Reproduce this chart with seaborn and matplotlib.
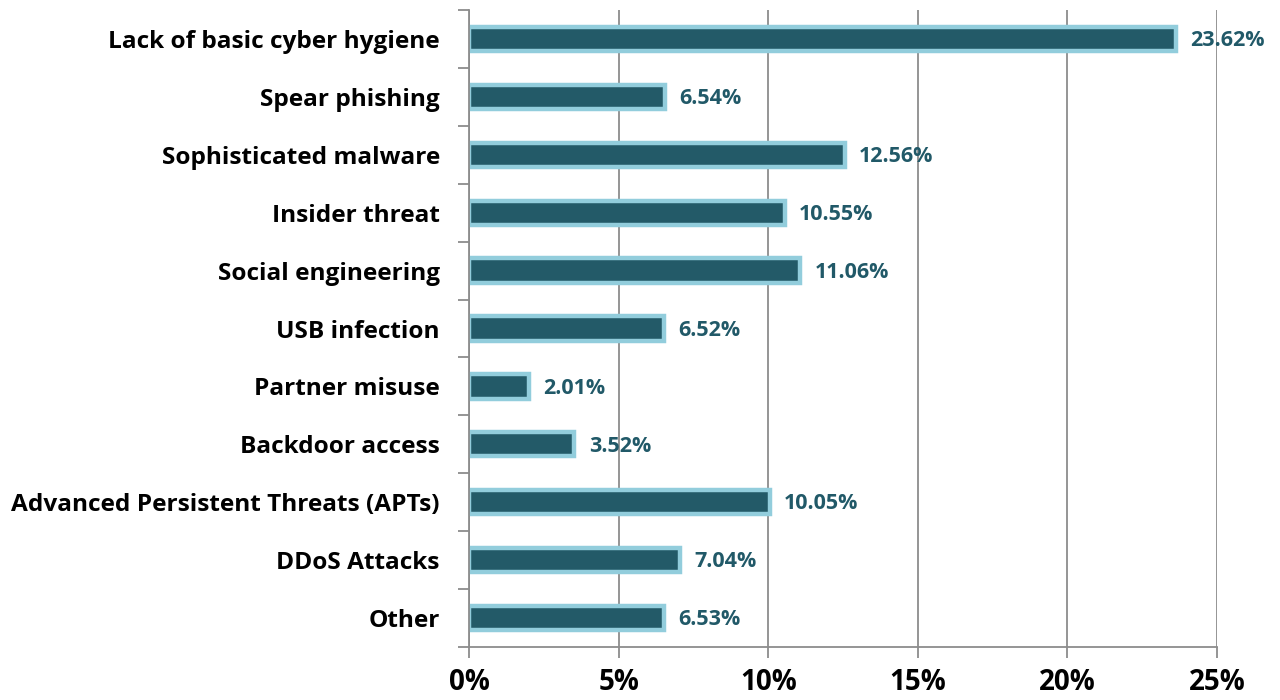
import matplotlib
matplotlib.use("Agg")
import matplotlib.pyplot as plt
from matplotlib.ticker import FixedLocator, PercentFormatter
import seaborn as sns
import pandas as pd

categories = [
    "Lack of basic cyber hygiene",
    "Spear phishing",
    "Sophisticated malware",
    "Insider threat",
    "Social engineering",
    "USB infection",
    "Partner misuse",
    "Backdoor access",
    "Advanced Persistent Threats (APTs)",
    "DDoS Attacks",
    "Other",
]
shares = [23.62, 6.54, 12.56, 10.55, 11.06, 6.52, 2.01, 3.52, 10.05, 7.04, 6.53]
x_ticks = [0, 5, 10, 15, 20, 25]

sns.set_theme(style="white")
plt.rcParams["font.family"] = ["Open Sans", "DejaVu Sans"]

df = pd.DataFrame({"category": categories, "share": shares})

fig = plt.figure(figsize=(12.8, 7), dpi=100)
ax = fig.add_axes([0.3664, 0.0757, 0.5844, 0.91])

fill = "#235A68"
edge = "#92CDDC"
grid = "#8C8C8C"

sns.barplot(data=df, x="share", y="category", orient="h", color=fill,
            edgecolor=edge, linewidth=3.2, width=0.42, saturation=1, ax=ax)

for patch, v in zip(ax.patches, shares):
    y = patch.get_y() + patch.get_height() / 2
    ax.text(v + 0.48, y + 0.03, f"{v:.2f}%", va="center", ha="left",
            fontsize=15.5, fontweight="bold", color="#215968")

ax.set_xlim(0, 25)
ax.set_ylim(len(categories) - 0.5, -0.5)
ax.xaxis.set_major_locator(FixedLocator(x_ticks))
ax.xaxis.set_major_formatter(PercentFormatter(decimals=0))
ax.grid(axis="x", color=grid, linewidth=1.3)
ax.set_axisbelow(True)
ax.set_xlabel("")
ax.set_ylabel("")

for side in ("top", "right"):
    ax.spines[side].set_visible(False)
for side in ("left", "bottom"):
    ax.spines[side].set_color(grid)
    ax.spines[side].set_linewidth(1.3)

ax.tick_params(axis="x", which="major", length=8, width=1.3, color=grid,
               labelsize=20, pad=7, direction="out", bottom=True)
for lab in ax.get_xticklabels():
    lab.set_fontweight("bold")
    lab.set_color("black")

ax.tick_params(axis="y", which="major", length=0, labelsize=17.6, pad=21)
ax.yaxis.set_minor_locator(FixedLocator([i - 0.5 for i in range(len(categories) + 1)]))
ax.tick_params(axis="y", which="minor", length=8, width=1.3, color=grid,
               direction="out", left=True)
for lab in ax.get_yticklabels():
    lab.set_fontweight("bold")
    lab.set_color("black")

fig.savefig("out.png", dpi=100, facecolor="white")
